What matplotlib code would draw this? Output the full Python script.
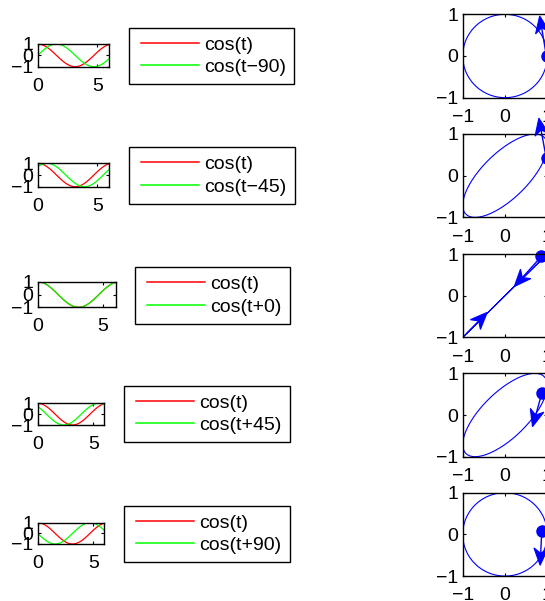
import numpy as np
import matplotlib
matplotlib.use('Agg')
import matplotlib.pyplot as plt
from matplotlib.lines import Line2D
from matplotlib.patches import Polygon
from matplotlib.transforms import IdentityTransform
from matplotlib.legend_handler import HandlerLine2D

plt.rcParams['font.family'] = ['Liberation Sans', 'DejaVu Sans']
plt.rcParams['font.size'] = 14

# chart data
phases_deg = [-90, -45, 0, 45, 90]
labels = ['cos(t\u221290)', 'cos(t\u221245)', 'cos(t+0)', 'cos(t+45)', 'cos(t+90)']
t = np.arange(0, 6.05, 0.1)
t_loop = np.linspace(0, 2 * np.pi, 60)

# marker position and arrows on the phase plots (data coords: x0, y0, x1, y1)
dot_xy = [(0.99, 0.0), (0.99, 0.42), (0.85, 0.95), (0.87, 0.52), (0.87, 0.09)]
arrows = [
    [(0.97, 0.05, 0.82, 0.96)],
    [(0.97, 0.45, 0.80, 1.38)],
    [(0.85, 0.93, 0.22, 0.22), (-0.9, -0.9, -0.42, -0.40)],
    [(0.87, 0.52, 0.65, -0.28)],
    [(0.87, 0.09, 0.83, -0.74)],
]

W, H = 545, 601
fig = plt.figure(figsize=(W / 100, H / 100), dpi=100)


def px_axes(x0, y0, x1, y1):
    return fig.add_axes([x0 / W, 1 - y1 / H, (x1 - x0) / W, (y1 - y0) / H])


def style(ax, xpad, ypad):
    for s in ax.spines.values():
        s.set_linewidth(1.0)
    ax.tick_params(direction='in', length=2, width=0.8, top=True, right=True,
                   labelsize=14)
    ax.tick_params(axis='x', pad=xpad)
    ax.tick_params(axis='y', pad=ypad)


# pixel boxes of the small time plots and their legends
left_boxes = [(37.7, 44, 109.3, 66.7), (37.7, 163.3, 109.3, 186.7),
              (37.7, 281.7, 115.7, 307.3), (37.7, 403.3, 104.3, 425),
              (37.7, 522.7, 104.3, 544)]
legend_anchor = [(129, 28), (129, 147.3), (135, 267.3), (124, 386), (124, 506)]
right_tops = [14.3, 134, 254, 373.3, 492.7]


def draw_arrow(ax, x0, y0, x1, y1, hl=17, hw=14, notch=5):
    p0 = ax.transData.transform((x0, y0))
    p1 = ax.transData.transform((x1, y1))
    d = p1 - p0
    u = d / np.hypot(*d)
    n = np.array([-u[1], u[0]])
    base = p1 - u * hl
    inner = p1 - u * (hl - notch)
    verts = [p1, base + n * hw / 2, inner, base - n * hw / 2]
    fig.add_artist(Line2D([p0[0], inner[0]], [p0[1], inner[1]], color='b',
                          lw=1.0, transform=IdentityTransform()))
    fig.add_artist(Polygon(verts, closed=True, fc='b', ec='b', lw=0.8,
                           transform=IdentityTransform()))


handler = HandlerLine2D(numpoints=2, marker_pad=0.22)

for i, ph in enumerate(phases_deg):
    shift = np.deg2rad(ph)

    ax = px_axes(*left_boxes[i])
    l1, = ax.plot(t, np.cos(t), color='r', lw=0.9)
    l2, = ax.plot(t, np.cos(t + shift), color=(0, 1, 0), lw=0.9)
    ax.set_xlim(t[0], t[-1])
    ax.set_ylim(-1, 1)
    ax.set_xticks([0, 5])
    ax.set_yticks([-1, 0, 1])
    style(ax, 8, 3)

    lx, ly = legend_anchor[i]
    leg = fig.legend([l1, l2], ['cos(t)', labels[i]], loc='upper left',
                     bbox_to_anchor=(lx / W, 1 - ly / H), borderaxespad=0,
                     fancybox=False, framealpha=1, edgecolor='k',
                     borderpad=0.42, labelspacing=0.25, handlelength=3.4,
                     handletextpad=0.05, fontsize=14,
                     handler_map={Line2D: handler})
    leg.get_frame().set_linewidth(1.0)
    for hl_line in leg.get_lines():
        hl_line.set_linewidth(1.1)

    top = right_tops[i]
    ax2 = px_axes(462.7, top, 547.3, top + 83.4)
    ax2.plot(np.cos(t_loop), np.cos(t_loop + shift), color='b', lw=0.8)
    ax2.plot(*dot_xy[i], 'o', color='b', ms=8, clip_on=False)
    ax2.set_xlim(-1, 1)
    ax2.set_ylim(-1, 1)
    ax2.set_xticks([-1, 0, 1])
    ax2.set_yticks([-1, 0, 1])
    style(ax2, 8, 3)
    for a in arrows[i]:
        draw_arrow(ax2, *a)

fig.savefig('out.png', dpi=100)
